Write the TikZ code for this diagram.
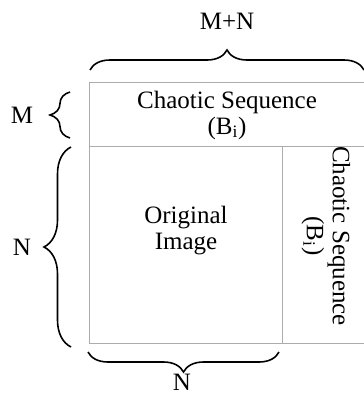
\documentclass[tikz,border=0pt]{standalone}
\usepackage{fontspec}
\setmainfont{Liberation Serif}
\usetikzlibrary{decorations.pathreplacing, positioning}

\begin{document}
\begin{tikzpicture}[x=1pt, y=1pt,
    box/.style={draw=gray!65, line width=0.9pt},
    curly/.style={decorate, decoration={brace, amplitude=#1}, line width=1.6pt},
    lbl/.style={font=\fontsize{25}{26}\selectfont, align=center, inner sep=0pt}]
    % Page frame (right side of the block is cut off)
    \clip (0,0) rectangle (364,-397);

    % Block
    \coordinate (tl) at (89,-82);
    \coordinate (br) at (370,-343);
    \draw[box] (tl) rectangle (br);
    \draw[box] (89,-146) -- (370,-146);
    \draw[box] (282,-146) -- (282,-343);

    % Texts in the block
    \node[lbl] (seqtop) at (227,-115) {Chaotic Sequence\\(B\textsubscript{i})};
    \node[lbl] (orig) at (186,-231) {Original\\Image};
    \node[lbl, rotate=-90] (seqside) at (326,-236) {Chaotic Sequence\\(B\textsubscript{i})};

    % Braces
    \coordinate (tb0) at (90,-70);
    \coordinate (tb1) at (364,-70);
    \draw[curly=20] (tb0) -- (tb1);
    \node[lbl] (mn) at (227,-21) {M+N};

    \coordinate (mb0) at (70,-138);
    \coordinate (mb1) at (70,-92);
    \draw[curly=20] (mb0) -- (mb1);
    \node[lbl] (m) at (22,-115) {M};

    \coordinate (nb0) at (71,-347);
    \coordinate (nb1) at (71,-147);
    \draw[curly=27] (nb0) -- (nb1);
    \node[lbl] (nleft) at (22,-247) {N};

    \coordinate (bb0) at (279,-352);
    \coordinate (bb1) at (88,-352);
    \draw[curly=20] (bb0) -- (bb1);
    \node[lbl] (nbot) at (182,-382) {N};
\end{tikzpicture}
\end{document}
